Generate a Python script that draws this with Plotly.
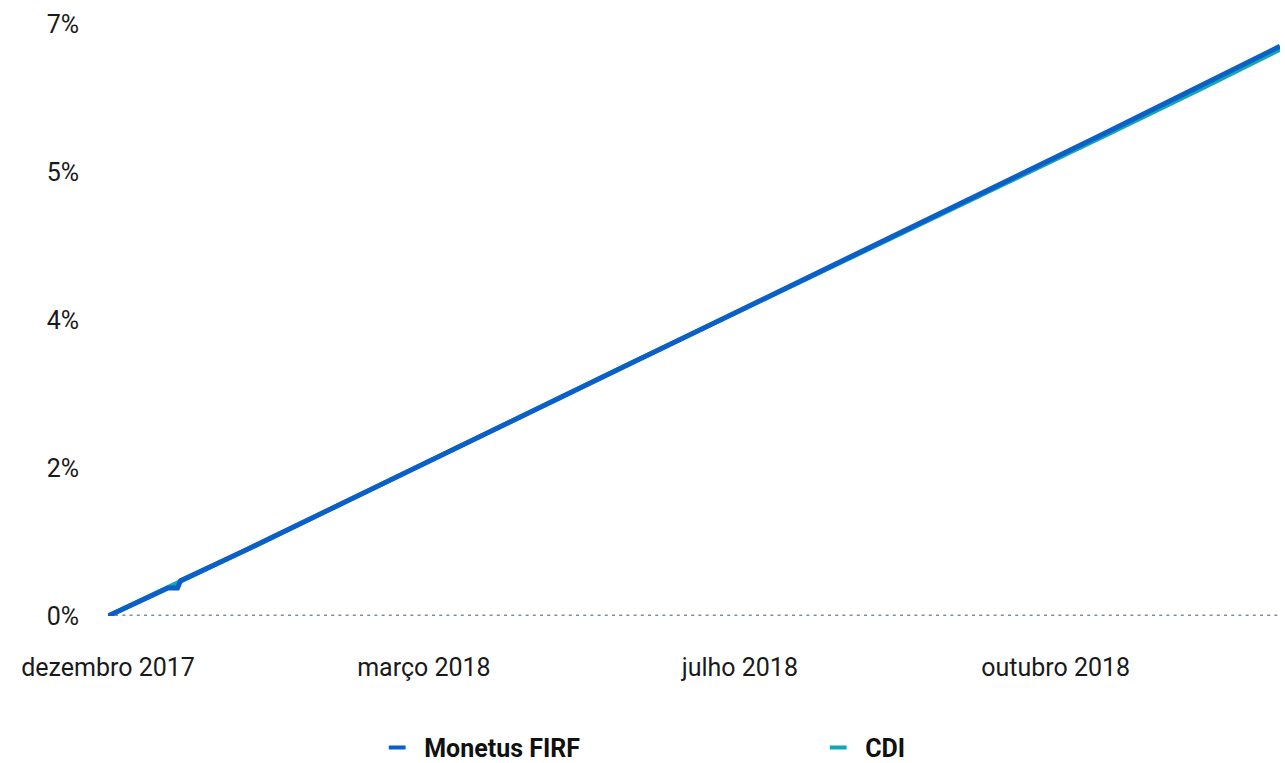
import plotly.graph_objects as go

dates_monetus = ["2017-12-20", "2018-01-05", "2018-01-08", "2018-01-11", "2018-01-12",
                 "2018-02-01", "2018-03-01", "2018-04-02", "2018-05-02", "2018-06-01",
                 "2018-07-02", "2018-08-01", "2018-09-03", "2018-10-01", "2018-11-01",
                 "2018-12-03", "2018-12-26"]
monetus = [0.0, 0.29, 0.34, 0.34, 0.43, 0.79, 1.31, 1.91, 2.47, 3.03,
           3.60, 4.16, 4.78, 5.30, 5.88, 6.49, 6.93]

dates_cdi = ["2017-12-20", "2018-01-05", "2018-01-08", "2018-01-11", "2018-01-12",
             "2018-02-01", "2018-03-01", "2018-04-02", "2018-05-02", "2018-06-01",
             "2018-07-02", "2018-08-01", "2018-09-03", "2018-10-01", "2018-11-01",
             "2018-12-03", "2018-12-26"]
cdi = [0.0, 0.29, 0.35, 0.41, 0.43, 0.79, 1.31, 1.91, 2.47, 3.03,
       3.60, 4.15, 4.76, 5.28, 5.85, 6.45, 6.89]

x_tickvals = ["2017-12-20", "2018-03-30", "2018-07-08", "2018-10-16"]
x_ticktext = ["dezembro 2017", "março 2018", "julho 2018", "outubro 2018"]
y_tickvals = [0, 1.8, 3.6, 5.4, 7.2]
y_ticktext = ["0%", "2%", "4%", "5%", "7%"]

C_MON = "#0b5fc7"
C_CDI = "#12a7b6"

fig = go.Figure()
fig.add_trace(go.Scatter(x=dates_cdi, y=cdi, mode="lines", name="CDI",
                         line=dict(color=C_CDI, width=4.5), showlegend=False))
fig.add_trace(go.Scatter(x=dates_monetus, y=monetus, mode="lines", name="Monetus FIRF",
                         line=dict(color=C_MON, width=5), showlegend=False))
# legend entries
for name, col in [("Monetus FIRF", C_MON), ("CDI", C_CDI)]:
    fig.add_trace(go.Scatter(x=[None], y=[None], mode="markers", name=name,
                             marker=dict(symbol="line-ew-open", size=12, color=col,
                                         line=dict(color=col, width=4))))

fig.update_layout(
    width=1285, height=763,
    margin=dict(l=108, r=5, t=24, b=147),
    paper_bgcolor="white", plot_bgcolor="white",
    font=dict(family="Roboto, sans-serif", size=25, color="#1a1a1a"),
    showlegend=True,
    legend=dict(orientation="h", x=0.600, xanchor="center",
                yref="container", y=0.02, yanchor="middle",
                entrywidth=382, itemwidth=44,
                font=dict(size=25, family="Roboto, sans-serif", weight="bold", color="#111")),
    xaxis=dict(type="date", range=["2017-12-20", "2018-12-26"],
               tickvals=x_tickvals, ticktext=x_ticktext,
               showgrid=False, zeroline=False, showline=False, automargin=False,
               ticklabelstandoff=34),
    yaxis=dict(range=[0, 7.2], tickvals=y_tickvals, ticktext=y_ticktext,
               showgrid=False, zeroline=False, showline=False, automargin=False,
               ticklabelstandoff=28),
    shapes=[dict(type="line", xref="paper", yref="y", x0=0, x1=1, y0=0, y1=0,
                 line=dict(color="#7f8ea2", width=3, dash="3px,4.2px"), layer="below")],
)

fig.write_html("out.html", config={"displayModeBar": False},
               post_script="document.body.style.margin='0';")
